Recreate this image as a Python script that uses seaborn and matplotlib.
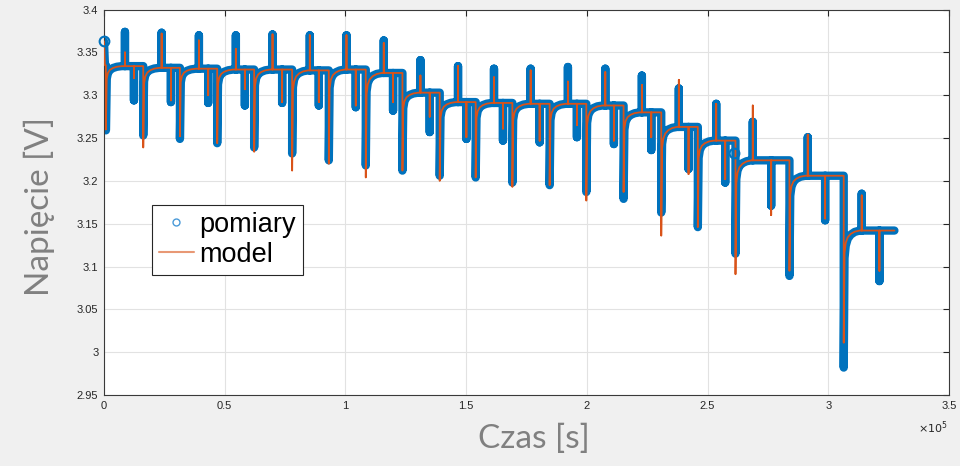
import pandas as pd
import seaborn as sns
import matplotlib.pyplot as plt
from matplotlib.lines import Line2D
from matplotlib.ticker import FuncFormatter, MultipleLocator

# start of each discharge pulse [s]
pulse_start = [800, 16270, 31460, 46900, 62210, 77940, 93130, 108440, 123630, 139070,
               153970, 169160, 184600, 199790, 215230, 230830, 245980, 261580, 283930, 306410]
end_time = 327400
# short charge (up) and discharge (down) pulses on each rest plateau [s]
up_time = [8690, 23880, 39320, 54630, 69820, 85260, 100450, 115890, 131080, 146650,
           161550, 176730, 192170, 207650, 222800, 238110, 253590, 268740, 291510, 313860]
down_time = [12420, 27730, 43170, 58360, 73800, 88990, 104300, 119740, 134930, 150120,
             165270, 180460, 195900, 211210, 226690, 242130, 257320, 276360, 298710, 321190]

# voltages [V]
plateau = [3.334, 3.332, 3.331, 3.330, 3.330, 3.329, 3.330, 3.326, 3.303, 3.292,
           3.291, 3.290, 3.290, 3.288, 3.280, 3.263, 3.247, 3.224, 3.206, 3.142]
meas_min = [3.259, 3.253, 3.249, 3.244, 3.239, 3.232, 3.224, 3.218, 3.212, 3.206,
            3.204, 3.198, 3.195, 3.187, 3.179, 3.163, 3.146, 3.115, 3.089, 2.982]
model_min = [3.260, 3.239, 3.252, 3.244, 3.234, 3.212, 3.220, 3.204, 3.212, 3.200,
             3.204, 3.193, 3.195, 3.177, 3.187, 3.136, 3.146, 3.091, 3.095, 3.011]
meas_up = [3.374, 3.373, 3.370, 3.370, 3.371, 3.370, 3.370, 3.364, 3.341, 3.334,
           3.331, 3.331, 3.333, 3.331, 3.323, 3.308, 3.290, 3.269, 3.251, 3.185]
model_up = [3.350, 3.372, 3.364, 3.354, 3.371, 3.370, 3.370, 3.361, 3.323, 3.334,
            3.321, 3.329, 3.316, 3.327, 3.312, 3.318, 3.290, 3.288, 3.254, 3.183]
meas_down = [3.294, 3.292, 3.291, 3.288, 3.291, 3.288, 3.286, 3.282, 3.257, 3.249,
             3.247, 3.245, 3.251, 3.243, 3.236, 3.214, 3.198, 3.171, 3.154, 3.083]
model_down = [3.320, 3.294, 3.300, 3.307, 3.292, 3.292, 3.288, 3.292, 3.275, 3.251,
              3.261, 3.247, 3.265, 3.247, 3.251, 3.208, 3.202, 3.160, 3.156, 3.095]

# relaxation after each pulse: time after pulse [s] and recovered fraction
relax_dt = [0, 330, 830, 1660, 2900, 4550, 6600]
relax_frac = [0, 0.80, 0.89, 0.94, 0.97, 0.99, 1.0]

# first samples before the first pulse
start_t = [0, 400]
start_v = [3.363, 3.335]

# single stray samples
stray_t = [0, 261100]
stray_v = [3.363, 3.232]


def build_path(v_min, v_up, v_down):
    t, v = list(start_t), list(start_v)
    for i, t0 in enumerate(pulse_start):
        p = plateau[i]
        t_next = pulse_start[i + 1] if i + 1 < len(pulse_start) else end_time
        t += [t0]
        v += [v[-1]]
        for dt, f in zip(relax_dt, relax_frac):
            t.append(t0 + dt)
            v.append(v_min[i] + f * (p - v_min[i]))
        t += [up_time[i]] * 3 + [down_time[i]] * 3 + [t_next]
        v += [p, v_up[i], p, p, v_down[i], p, p]
    return pd.DataFrame({'t': t, 'v': v})


meas = build_path(meas_min, meas_up, meas_down)
model = build_path(model_min, model_up, model_down)

sns.set_style('white')
fig = plt.figure(figsize=(9.6, 4.66), dpi=100, facecolor='#f0f0f0')
ax = fig.add_axes([0.1083, 0.1524, 0.8802, 0.827])

blue = '#0072BD'
orange = '#D95319'

sns.lineplot(data=meas, x='t', y='v', sort=False, estimator=None, color=blue,
             lw=6, solid_capstyle='round', solid_joinstyle='round', ax=ax, zorder=2)
sns.lineplot(data=model, x='t', y='v', sort=False, estimator=None, color=orange,
             lw=1.3, ax=ax, zorder=3)
ax.plot(stray_t, stray_v, 'o', mfc='none', mec=blue, ms=7, mew=1.5, zorder=4,
        clip_on=False)

ax.set_xlim(0, 3.5e5)
ax.set_ylim(2.95, 3.4)
ax.xaxis.set_major_locator(MultipleLocator(0.5e5))
ax.yaxis.set_major_locator(MultipleLocator(0.05))
ax.xaxis.set_major_formatter(FuncFormatter(lambda x, _: f'{x / 1e5:g}'))
ax.yaxis.set_major_formatter(FuncFormatter(lambda y, _: f'{y:.2f}'.rstrip('0').rstrip('.')))
ax.grid(True, color='#e2e2e2', lw=0.8)
ax.set_axisbelow(True)
ax.tick_params(direction='in', length=4, width=0.8, colors='#262626', labelsize=8,
               top=True, right=True, pad=4)
for lab in ax.get_xticklabels() + ax.get_yticklabels():
    lab.set_fontfamily('Liberation Sans')
for s in ax.spines.values():
    s.set_color('#3a3a3a')
    s.set_linewidth(0.8)

ax.text(0.999, -0.085, r'$\times10^5$', transform=ax.transAxes, ha='right', va='center',
        fontsize=8, color='#262626')

label_font = dict(family=['Lato', 'DejaVu Sans'], weight='normal', size=24, color='#808080')
ax.set_xlabel('Czas [s]', **label_font)
ax.set_ylabel('Napięcie [V]', **label_font)
ax.xaxis.set_label_coords(0.509, -0.075)
ax.yaxis.set_label_coords(-0.058, 0.49)

handles = [Line2D([], [], ls='none', marker='o', mfc='none', mec='#4a9ad8', ms=5, mew=1),
           Line2D([], [], color=orange, alpha=0.6, lw=1.5)]
leg = ax.legend(handles, ['pomiary', 'model'], loc='lower left',
                bbox_to_anchor=(0.0568, 0.312), borderaxespad=0, frameon=True,
                fancybox=False, framealpha=1, edgecolor='#262626',
                prop={'family': 'Liberation Sans', 'size': 19.5},
                handlelength=1.3, handletextpad=0.2, borderpad=0.25, labelspacing=0.15)
leg.get_frame().set_linewidth(0.8)
for txt in leg.get_texts():
    txt.set_color('black')

fig.savefig('out.png', dpi=100, facecolor=fig.get_facecolor())
